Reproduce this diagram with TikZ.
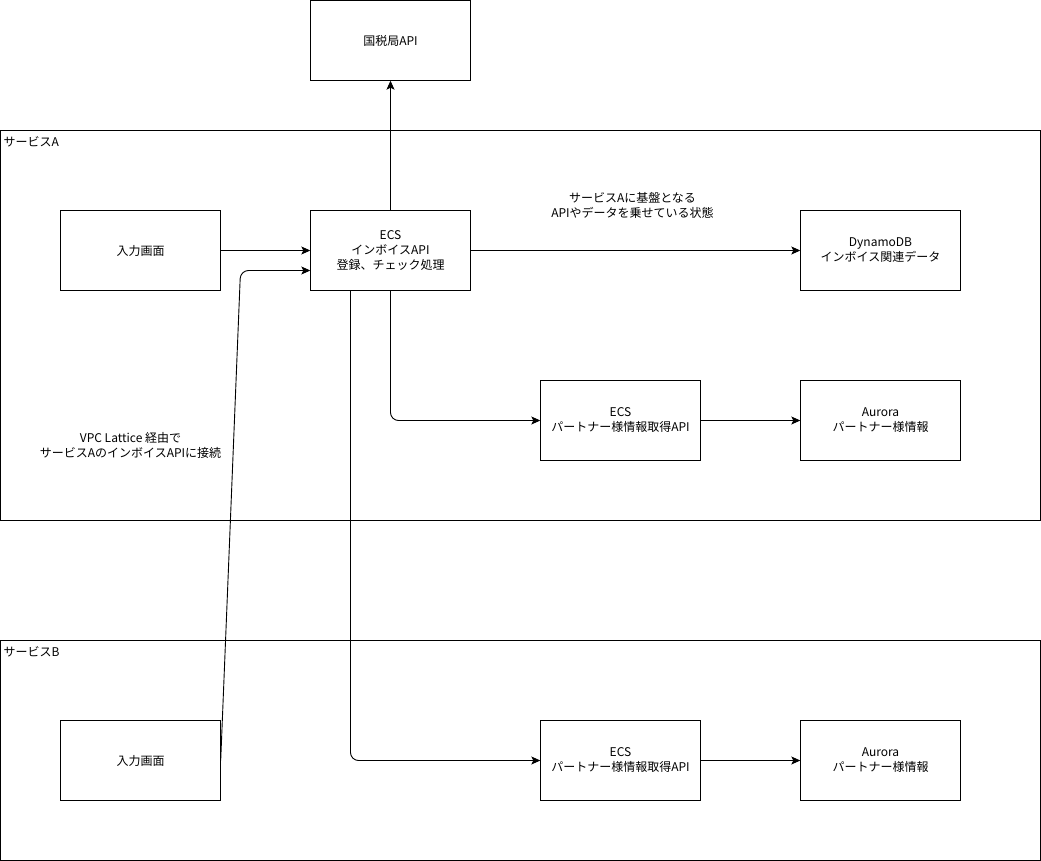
\documentclass[tikz,border=0pt]{standalone}
\usepackage{fontspec}
\newfontfamily\jpfont{Noto Sans CJK JP}
\usepackage{tikz}
\usetikzlibrary{positioning,calc,arrows.meta}

\begin{document}
\begin{tikzpicture}[x=1pt, y=-1pt,
        % Style cho các loại node
        boxnode/.style={rectangle, draw=black, fill=white, text=black, font=\jpfont\fontsize{12}{15}\selectfont, align=center, minimum width=160pt, minimum height=80pt, inner sep=0pt},
        groupnode/.style={rectangle, draw=black, minimum width=1040pt, inner sep=0pt},
        grouplabel/.style={font=\jpfont\fontsize{12}{15}\selectfont, anchor=north west, inner sep=0pt},
        notelabel/.style={font=\jpfont\fontsize{12}{15}\selectfont, align=center, inner sep=0pt},
        % Style cạnh
        arrowedge/.style={-{Stealth[length=9pt, width=8pt, inset=2pt]}, draw=black, line width=0.9pt, rounded corners=8pt}
    ]
        \useasboundingbox (-0.5,-0.5) rectangle (1040.5,860.5);

        % --- NHÓM (CONTAINERS) ---
        \node[groupnode, minimum height=390pt] (svcA) at (520, 325) {};
        \node[groupnode, minimum height=220pt] (svcB) at (520, 750) {};
        \node[grouplabel] at (3, 136) {サービスA};
        \node[grouplabel] at (3, 646) {サービスB};

        % --- NODES ---
        % trên cùng
        \node[boxnode] (nta) at (390, 40) {国税局API};

        % サービスA
        \node[boxnode] (inA) at (140, 250) {入力画面};
        \node[boxnode] (ecs) at (390, 250) {ECS\\インボイスAPI\\登録、チェック処理};
        \node[boxnode] (ddb) at (880, 250) {DynamoDB\\インボイス関連データ};
        \node[boxnode] (ptA) at (620, 420) {ECS\\パートナー様情報取得API};
        \node[boxnode] (auA) at (880, 420) {Aurora\\パートナー様情報};

        % サービスB
        \node[boxnode] (inB) at (140, 760) {入力画面};
        \node[boxnode] (ptB) at (620, 760) {ECS\\パートナー様情報取得API};
        \node[boxnode] (auB) at (880, 760) {Aurora\\パートナー様情報};

        % ghi chú
        \node[notelabel] (noteA) at (632, 205) {サービスAに基盤となる\\APIやデータを乗せている状態};
        \node[notelabel] (noteL) at (130, 445) {VPC Lattice 経由で\\サービスAのインボイスAPIに接続};

        % điểm gấp
        \coordinate (bend) at (240, 270);

        % --- VẼ CẠNH ---
        \draw[arrowedge] (ecs) -- (nta);
        \draw[arrowedge] (inA) -- (ecs);
        \draw[arrowedge] (ecs) -- (ddb);
        \draw[arrowedge] (ecs.south) |- (ptA.west);
        \draw[arrowedge] (ptA) -- (auA);
        \draw[arrowedge] ($(ecs.south)+(-40,0)$) |- (ptB.west);
        \draw[arrowedge] (ptB) -- (auB);
        \draw[arrowedge] (inB.east) -- (bend) -- ($(ecs.west)+(0,20)$);

\end{tikzpicture}
\end{document}
